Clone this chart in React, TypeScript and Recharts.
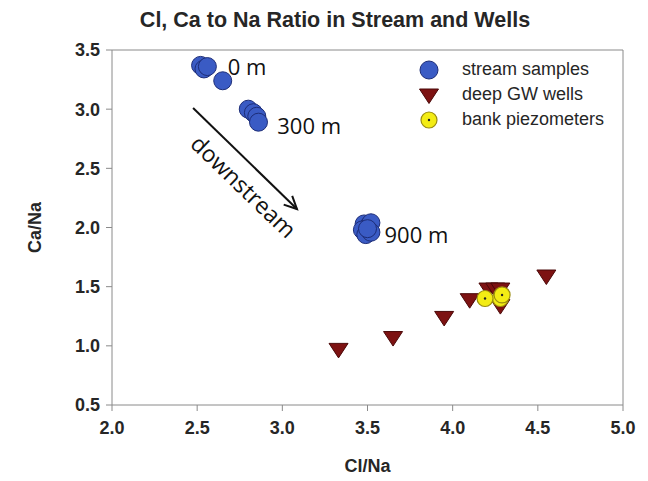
import React from 'react';
import { ScatterChart, Scatter, XAxis, YAxis, ReferenceLine, ReferenceDot } from 'recharts';

const streamSamples = [
  { x: 2.52, y: 3.37 }, { x: 2.54, y: 3.34 }, { x: 2.56, y: 3.36 }, { x: 2.65, y: 3.24 },
  { x: 2.80, y: 3.00 }, { x: 2.83, y: 2.97 }, { x: 2.85, y: 2.94 }, { x: 2.86, y: 2.89 },
  { x: 3.48, y: 2.03 }, { x: 3.51, y: 2.02 }, { x: 3.52, y: 2.04 }, { x: 3.47, y: 1.98 },
  { x: 3.49, y: 1.94 }, { x: 3.52, y: 1.96 }, { x: 3.50, y: 1.99 },
];
const deepWells = [
  { x: 3.33, y: 0.97 }, { x: 3.65, y: 1.07 }, { x: 3.95, y: 1.24 }, { x: 4.10, y: 1.39 },
  { x: 4.21, y: 1.48 }, { x: 4.25, y: 1.48 }, { x: 4.28, y: 1.48 }, { x: 4.28, y: 1.34 },
  { x: 4.55, y: 1.59 },
];
const bankPiezometers = [
  { x: 4.28, y: 1.40 }, { x: 4.19, y: 1.40 }, { x: 4.29, y: 1.43 },
];
const xTicks = [2.0, 2.5, 3.0, 3.5, 4.0, 4.5, 5.0];
const yTicks = [0.5, 1.0, 1.5, 2.0, 2.5, 3.0, 3.5];
const distanceLabels = [
  { x: 2.68, y: 3.365, text: '0 m' },
  { x: 2.97, y: 2.87, text: '300 m' },
  { x: 3.60, y: 1.945, text: '900 m' },
];
const arrowSegment = [{ x: 2.476, y: 3.01 }, { x: 3.086, y: 2.156 }];
const downstreamLabel = { x: 2.775, y: 2.35, text: 'downstream' };

const BLUE = '#3a5bc4';
const BLUE_STROKE = '#1d2d78';
const RED = '#7d1212';
const RED_STROKE = '#4a0808';
const YELLOW = '#f3ec14';
const YELLOW_STROKE = '#9a8c10';
const AXIS = '#8a8a8a';
const TEXT = '#262626';
const ANNOT_FONT = '"Open Sans", sans-serif';
const SANS = 'Arial, "Liberation Sans", sans-serif';

const CircleShape = (p: any) => (
  <circle cx={p.cx} cy={p.cy} r={9} fill={BLUE} stroke={BLUE_STROKE} strokeWidth={1} />
);
const TriShape = (p: any) => (
  <polygon
    points={`${p.cx - 9.5},${p.cy - 6} ${p.cx + 9.5},${p.cy - 6} ${p.cx},${p.cy + 8.5}`}
    fill={RED}
    stroke={RED_STROKE}
    strokeWidth={1}
  />
);
const YellowShape = (p: any) => (
  <g>
    <circle cx={p.cx} cy={p.cy} r={8} fill={YELLOW} stroke={YELLOW_STROKE} strokeWidth={1.2} />
    <circle cx={p.cx} cy={p.cy} r={1.2} fill="#222" />
  </g>
);

const legendItems = [
  { name: 'stream samples', kind: 'circle' },
  { name: 'deep GW wells', kind: 'tri' },
  { name: 'bank piezometers', kind: 'yellow' },
];

const ArrowShape = (p: any) => {
  const { x1, y1, x2, y2 } = p;
  const ang = Math.atan2(y2 - y1, x2 - x1);
  const L = 14;
  const a1 = ang + Math.PI - 0.45;
  const a2 = ang + Math.PI + 0.45;
  return (
    <g>
      <line x1={x1} y1={y1} x2={x2} y2={y2} stroke="#111" strokeWidth={2} />
      <polyline
        points={`${x2 + L * Math.cos(a1)},${y2 + L * Math.sin(a1)} ${x2},${y2} ${x2 + L * Math.cos(a2)},${y2 + L * Math.sin(a2)}`}
        fill="none"
        stroke="#111"
        strokeWidth={2}
      />
    </g>
  );
};

export default function App() {
  return (
    <div style={{ position: 'absolute', left: 0, top: 0, width: 648, height: 481, background: '#fff' }}>
      <div
        style={{
          position: 'absolute', left: 0, top: 8, width: 670, textAlign: 'center',
          fontFamily: SANS, fontWeight: 'bold', fontSize: 21.5,
          color: TEXT, lineHeight: '24px',
        }}
      >
        Cl, Ca to Na Ratio in Stream and Wells
      </div>
      <ScatterChart width={648} height={481} margin={{ top: 50, right: 25, left: 0, bottom: 0 }}>
        <XAxis
          type="number"
          dataKey="x"
          domain={[2, 5]}
          ticks={xTicks}
          tickFormatter={(v: number) => v.toFixed(1)}
          height={76}
          stroke={AXIS}
          tickSize={6}
          tickMargin={10}
          tick={{ fill: TEXT, fontSize: 18, fontWeight: 'bold', fontFamily: SANS }}
          label={(props: any) => {
            const vb = props.viewBox;
            return (
              <text x={vb.x + vb.width / 2} y={vb.y + 67} textAnchor="middle" fill={TEXT}
                style={{ fontSize: 18, fontWeight: 'bold', fontFamily: SANS }}>
                Cl/Na
              </text>
            );
          }}
        />
        <YAxis
          type="number"
          dataKey="y"
          domain={[0.5, 3.5]}
          ticks={yTicks}
          tickFormatter={(v: number) => v.toFixed(1)}
          width={112}
          stroke={AXIS}
          tickSize={6}
          tickMargin={6}
          tick={{ fill: TEXT, fontSize: 18, fontWeight: 'bold', fontFamily: SANS }}
          label={(props: any) => {
            const vb = props.viewBox;
            const cx = 41;
            const cy = vb.y + vb.height / 2;
            return (
              <text x={cx} y={cy} textAnchor="middle" fill={TEXT} transform={`rotate(-90, ${cx}, ${cy})`}
                style={{ fontSize: 18, fontWeight: 'bold', fontFamily: SANS }}>
                Ca/Na
              </text>
            );
          }}
        />
        <ReferenceLine y={3.5} stroke={AXIS} strokeWidth={1} />
        <ReferenceLine x={5} stroke={AXIS} strokeWidth={1} />
        <ReferenceLine segment={arrowSegment} ifOverflow="visible" shape={ArrowShape} />
        <ReferenceDot
          x={downstreamLabel.x}
          y={downstreamLabel.y}
          ifOverflow="visible"
          shape={(p: any) => (
            <text x={p.cx} y={p.cy} textAnchor="middle" dominantBaseline="central" fill="#111"
              transform={`rotate(44, ${p.cx}, ${p.cy})`}
              style={{ fontSize: 23, fontFamily: ANNOT_FONT }}>
              {downstreamLabel.text}
            </text>
          )}
        />
        {distanceLabels.map((d) => (
          <ReferenceDot
            key={d.text}
            x={d.x}
            y={d.y}
            ifOverflow="visible"
            shape={(p: any) => (
              <text x={p.cx} y={p.cy} textAnchor="start" dominantBaseline="central" fill="#111"
                style={{ fontSize: 22, fontFamily: ANNOT_FONT }}>
                {d.text}
              </text>
            )}
          />
        ))}
        <Scatter name="stream samples" data={streamSamples} shape={CircleShape} isAnimationActive={false} />
        <Scatter name="deep GW wells" data={deepWells} shape={TriShape} isAnimationActive={false} />
        <Scatter name="bank piezometers" data={bankPiezometers} shape={YellowShape} isAnimationActive={false} />
      </ScatterChart>
      <div style={{ position: 'absolute', left: 417, top: 57, fontFamily: SANS, fontSize: 18, color: TEXT }}>
        {legendItems.map((it) => (
          <div key={it.name} style={{ display: 'flex', alignItems: 'center', height: 25 }}>
            <svg width={24} height={24} style={{ marginRight: 21 }}>
              {it.kind === 'circle' && <CircleShape cx={12} cy={12} />}
              {it.kind === 'tri' && <TriShape cx={12} cy={12} />}
              {it.kind === 'yellow' && <YellowShape cx={12} cy={12} />}
            </svg>
            <span>{it.name}</span>
          </div>
        ))}
      </div>
    </div>
  );
}
